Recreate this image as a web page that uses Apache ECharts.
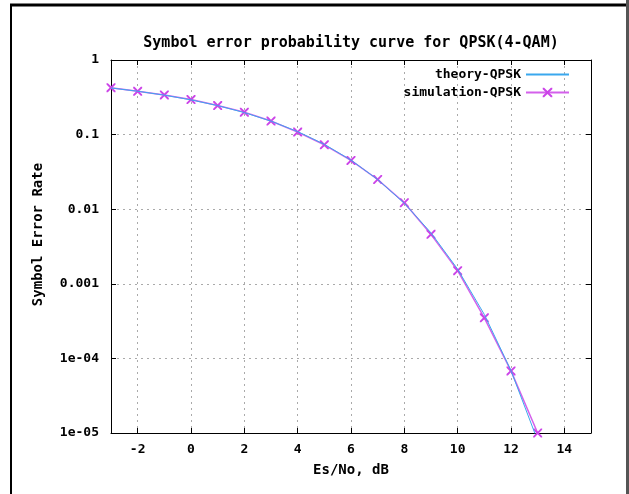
<!DOCTYPE html>
<html>
<head>
<meta charset="utf-8">
<script src="https://cdn.jsdelivr.net/npm/echarts@6/dist/echarts.min.js"></script>
<style>
  html, body { margin: 0; padding: 0; background: #fff; }
  #chart { width: 629px; height: 494px; }
</style>
</head>
<body>
<div id="chart"></div>
<script>
  // Es/No in dB
  const snrDb = [-3, -2, -1, 0, 1, 2, 3, 4, 5, 6, 7, 8, 9, 10, 11, 12, 13];
  const theorySer = [0.4216, 0.3814, 0.3381, 0.2922, 0.2447, 0.1972, 0.1516, 0.1098, 0.0740,
    0.0455, 0.0250, 0.0120, 0.00482, 0.00157, 0.000388, 0.0000686, 0.0000079];
  const simSer = [0.425, 0.38, 0.34, 0.295, 0.245, 0.20, 0.152, 0.108, 0.073,
    0.045, 0.025, 0.0122, 0.0046, 0.0015, 0.00035, 0.000068, 0.00001];
  const xTicks = [-2, 0, 2, 4, 6, 8, 10, 12, 14];

  const font = "DejaVu Sans Mono";
  const crossPath = "path://M0,0L1.5,0L5,3.5L8.5,0L10,0L10,1.5L6.5,5L10,8.5L10,10L8.5,10L5,6.5L1.5,10L0,10L0,8.5L3.5,5L0,1.5Z";

  function pair(xs, ys) {
    return xs.map((x, i) => [x, ys[i]]);
  }

  function logLabel(v) {
    const e = Math.round(Math.log10(v));
    if (e >= -3) return String(Math.pow(10, e).toFixed(-e > 0 ? -e : 0));
    return "1e-0" + (-e);
  }

  const myChart = echarts.init(document.getElementById("chart"));
  const frame = {show: true, onZero: false, lineStyle: {color: "#000", width: 1}};
  const tick = {show: true, inside: true, length: 5, lineStyle: {color: "#000"}};
  const grid = {show: true, lineStyle: {color: "#aaa", type: [2, 4], width: 1}};
  const legendText = {fontFamily: font, fontSize: 13, fontWeight: "bold", color: "#000"};

  myChart.setOption({
    animation: false,
    title: {
      text: "Symbol error probability curve for QPSK(4-QAM)",
      left: 346,
      textAlign: "center",
      top: 31,
      textStyle: {fontFamily: font, fontSize: 15, fontWeight: "bold", color: "#000"},
    },
    legend: [
      {
        data: ["theory-QPSK"],
        right: 54, top: 63,
        align: "right",
        itemWidth: 43, itemHeight: 14, itemGap: 0,
        itemStyle: {opacity: 0},
        textStyle: legendText,
      },
      {
        data: ["simulation-QPSK"],
        right: 54, top: 81,
        align: "right",
        itemWidth: 43, itemHeight: 12, itemGap: 0,
        textStyle: legendText,
      },
    ],
    grid: {left: 111, right: 38, top: 60, bottom: 61},
    xAxis: [
      {
        type: "value",
        min: -3, max: 15,
        name: "Es/No, dB",
        nameLocation: "middle",
        nameGap: 30,
        nameTextStyle: {fontFamily: font, fontSize: 14, fontWeight: "bold", color: "#000"},
        axisLine: frame,
        axisTick: Object.assign({customValues: xTicks}, tick),
        axisLabel: {customValues: xTicks, fontFamily: font, fontSize: 13, fontWeight: "bold", color: "#000", margin: 10},
        splitLine: grid,
      },
      {
        type: "value",
        position: "top",
        min: -3, max: 15,
        axisLine: frame,
        axisTick: Object.assign({customValues: xTicks}, tick),
        axisLabel: {show: false},
        splitLine: {show: false},
      },
    ],
    yAxis: [
      {
        type: "log",
        logBase: 10,
        min: 0.00001, max: 1,
        name: "Symbol Error Rate",
        nameLocation: "middle",
        nameGap: 66,
        nameTextStyle: {fontFamily: font, fontSize: 14, fontWeight: "bold", color: "#000", padding: [0, 0, 0, 24]},
        axisLine: frame,
        axisTick: tick,
        axisLabel: {formatter: logLabel, fontFamily: font, fontSize: 13, fontWeight: "bold", color: "#000", margin: 12},
        splitLine: grid,
      },
      {
        type: "log",
        logBase: 10,
        position: "right",
        min: 0.00001, max: 1,
        axisLine: frame,
        axisTick: tick,
        axisLabel: {show: false},
        splitLine: {show: false},
      },
    ],
    graphic: [
      {type: "line", shape: {x1: 10, y1: 5, x2: 627, y2: 5}, style: {stroke: "#000", lineWidth: 3}},
      {type: "line", shape: {x1: 11, y1: 4, x2: 11, y2: 494}, style: {stroke: "#000", lineWidth: 2}},
      {type: "rect", shape: {x: 626, y: 0, width: 3, height: 494}, style: {fill: "#555"}},
    ],
    series: [
      {
        name: "theory-QPSK",
        type: "line",
        data: pair(snrDb, theorySer),
        showSymbol: false,
        symbol: "none",
        clip: true,
        color: "#3aa8ee",
        lineStyle: {color: "#3aa8ee", width: 1},
        z: 3,
      },
      {
        name: "simulation-QPSK",
        type: "line",
        data: pair(snrDb, simSer),
        symbol: crossPath,
        symbolSize: 9,
        clip: false,
        color: "#cc44e8",
        itemStyle: {color: "#cc44e8"},
        lineStyle: {color: "#cc44e8", width: 1.5, opacity: 0.85},
        z: 2,
      },
    ],
  });
</script>
</body>
</html>
